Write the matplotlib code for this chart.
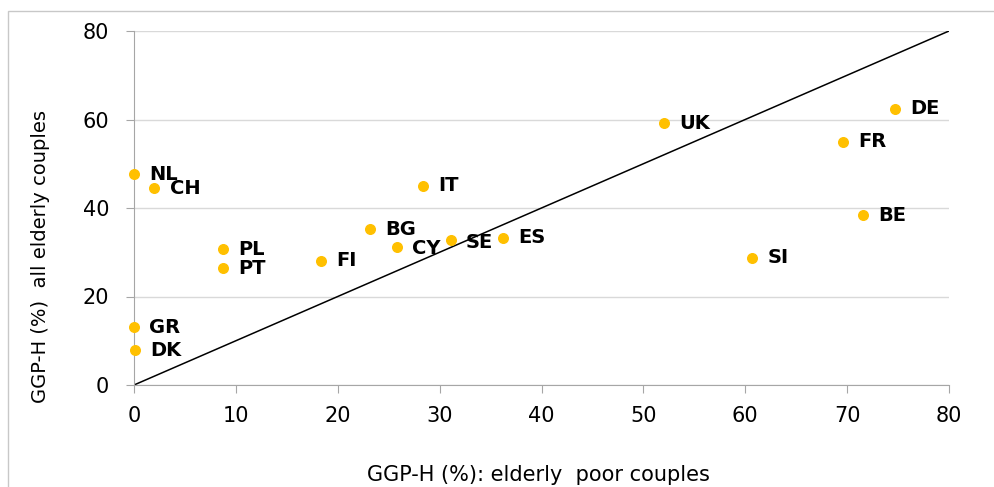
import numpy as np
import matplotlib.pyplot as plt
from matplotlib.patches import Rectangle

# country codes and GGP-H values
countries = ['NL', 'CH', 'IT', 'BG', 'CY', 'SE', 'ES', 'PL', 'PT', 'FI',
             'GR', 'DK', 'UK', 'DE', 'FR', 'BE', 'SI']
poor_couples = [0.0, 2.0, 28.4, 23.2, 25.8, 31.1, 36.2, 8.7, 8.7, 18.4,
                0.0, 0.1, 52.0, 74.7, 69.6, 71.6, 60.7]
all_couples = [47.6, 44.5, 45.0, 35.2, 31.1, 32.7, 33.3, 30.7, 26.4, 28.1,
               13.1, 7.8, 59.2, 62.4, 55.0, 38.4, 28.8]
# small vertical label nudges in points
label_dy = {'NL': 0, 'CH': -0.5, 'CY': -1, 'SE': -1.5}

fig = plt.figure(figsize=(9.94, 4.87), dpi=100)
ax = fig.add_axes([134/994, 1-385/487, (949-134)/994, (385-31)/487])

# light frame around the chart area
fig.patches.append(Rectangle((8/994, -0.1), 1.2, 1-11/487+0.1, transform=fig.transFigure,
                             fill=False, edgecolor='#c8c8c8', linewidth=1.0))

ax.plot([0, 80], [0, 80], color='black', linewidth=1.1, zorder=2)
ax.scatter(poor_couples, all_couples, s=48, color='#FFC000', zorder=3, clip_on=False)
for c, x, y in zip(countries, poor_couples, all_couples):
    ax.annotate(c, (x, y), xytext=(11, label_dy.get(c, 0)), textcoords='offset points',
                fontsize=14, fontweight='bold', va='center', ha='left', zorder=4)

ax.set_xlim(0, 80)
ax.set_ylim(0, 80)
ax.set_xticks(np.arange(0, 81, 10))
ax.set_yticks(np.arange(0, 81, 20))
ax.yaxis.grid(True, color='#d9d9d9', linewidth=1.0)
ax.set_axisbelow(True)
for side in ['top', 'right']:
    ax.spines[side].set_visible(False)
for side in ['left', 'bottom']:
    ax.spines[side].set_color('#a6a6a6')
ax.tick_params(axis='both', colors='#a6a6a6', labelcolor='black', labelsize=15, length=6, direction='out')
ax.tick_params(axis='x', pad=9)
ax.tick_params(axis='y', pad=12)
ax.set_xlabel('GGP-H (%): elderly  poor couples', fontsize=15)
ax.set_ylabel('GGP-H (%)  all elderly couples', fontsize=14)
ax.xaxis.set_label_coords(0.496, -0.254)
ax.yaxis.set_label_coords(-0.115, 0.364)
ax.xaxis.label.set_va('center')
ax.yaxis.label.set_va('center')

fig.savefig('out.png', dpi=100)
